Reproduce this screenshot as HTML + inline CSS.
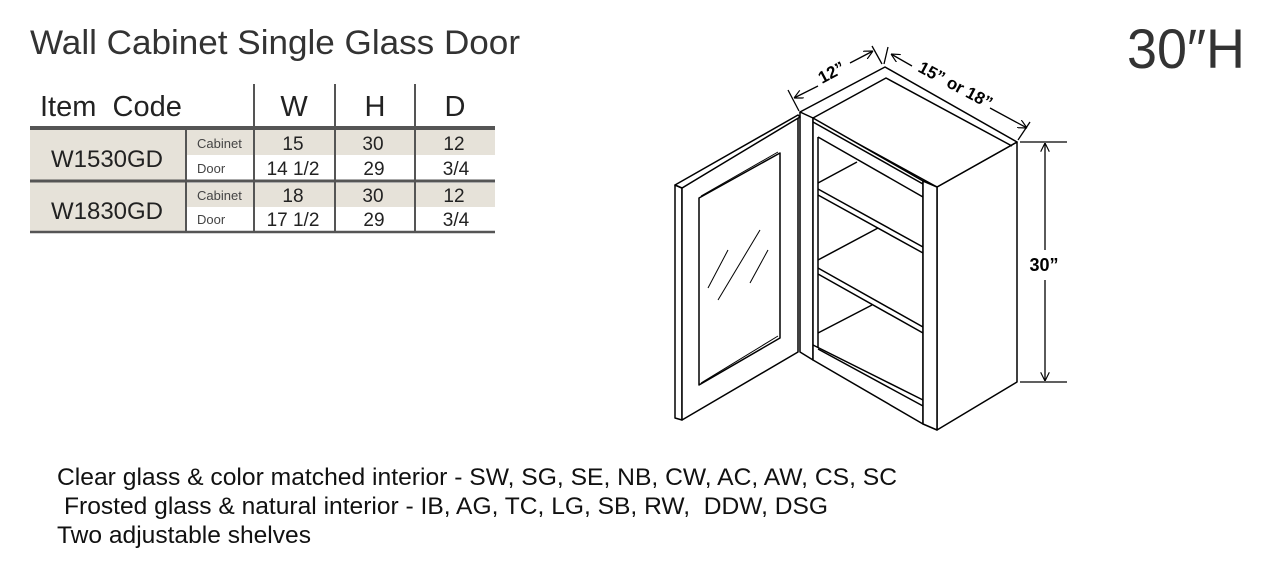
<!DOCTYPE html>
<html><head><meta charset="utf-8"><style>
html,body{margin:0;padding:0;background:#fff;}
svg{display:block;}
text{font-family:"Liberation Sans",sans-serif;}
</style></head><body>
<svg width="1267" height="570" viewBox="0 0 1267 570" xmlns="http://www.w3.org/2000/svg">
<defs>
<marker id="ar" viewBox="0 0 10 10" refX="10" refY="5" markerWidth="9" markerHeight="9" orient="auto-start-reverse" markerUnits="userSpaceOnUse"><path d="M0,0 L10,5 L0,10" fill="none" stroke="#000" stroke-width="1.3"/></marker>
</defs>
<!-- title -->
<text x="30" y="54" font-size="34" fill="#333" textLength="490" lengthAdjust="spacingAndGlyphs">Wall Cabinet Single Glass Door</text>
<text x="1127" y="68" font-size="56" fill="#333" textLength="118" lengthAdjust="spacingAndGlyphs">30″H</text>

<!-- table -->
<rect x="30" y="130" width="465" height="25" fill="#e6e2d9"/>
<rect x="30" y="183" width="465" height="24" fill="#e6e2d9"/>
<rect x="30" y="130" width="155" height="102" fill="#e6e2d9"/>
<g stroke="#555" fill="none">
<line x1="30" y1="128" x2="495" y2="128" stroke-width="4"/>
<line x1="30" y1="181" x2="495" y2="181" stroke-width="3"/>
<line x1="30" y1="232" x2="495" y2="232" stroke-width="2.5"/>
<line x1="186" y1="130" x2="186" y2="232" stroke-width="2"/>
<line x1="254" y1="84" x2="254" y2="232" stroke-width="2"/>
<line x1="335" y1="84" x2="335" y2="232" stroke-width="2"/>
<line x1="415" y1="84" x2="415" y2="232" stroke-width="2"/>
</g>
<g fill="#222">
<text x="40" y="116" font-size="29">Item&#160; Code</text>
<text x="294" y="116" font-size="29" text-anchor="middle">W</text>
<text x="375" y="116" font-size="29" text-anchor="middle">H</text>
<text x="455" y="116" font-size="29" text-anchor="middle">D</text>
<text x="107" y="167" font-size="24" text-anchor="middle">W1530GD</text>
<text x="107" y="219" font-size="24" text-anchor="middle">W1830GD</text>
<text x="197" y="148" font-size="13" fill="#444">Cabinet</text>
<text x="197" y="173" font-size="13" fill="#444">Door</text>
<text x="197" y="200" font-size="13" fill="#444">Cabinet</text>
<text x="197" y="224" font-size="13" fill="#444">Door</text>
<g font-size="19" text-anchor="middle">
<text x="293" y="150">15</text><text x="373" y="150">30</text><text x="454" y="150">12</text>
<text x="293" y="175">14 1/2</text><text x="374" y="175">29</text><text x="456" y="175">3/4</text>
<text x="293" y="202">18</text><text x="373" y="202">30</text><text x="454" y="202">12</text>
<text x="293" y="226">17 1/2</text><text x="374" y="226">29</text><text x="456" y="226">3/4</text>
</g>
</g>

<!-- cabinet drawing -->
<g stroke="#000" stroke-width="1.5" fill="#fff" stroke-linejoin="round">
<polygon points="937,187 1017,142 1017,382 937,430"/>
<polygon points="800,112 885,67 1017,142 937,187"/>
<polyline points="813,118 886,78 1012,146" fill="none"/>
<polygon points="800,112 813,118 813,360 800,352"/>
<polygon points="813,118 923,181 923,424 813,360"/>
<polygon points="923,181 937,187 937,430 923,424"/>
<line x1="813" y1="122" x2="923" y2="184"/>
<line x1="818" y1="137" x2="923" y2="197"/>
<line x1="818" y1="137" x2="818" y2="348"/>
<line x1="813" y1="345" x2="923" y2="400"/>
<line x1="818" y1="349" x2="923" y2="406"/>
<line x1="818" y1="183" x2="857" y2="162"/>
<line x1="818" y1="260" x2="878" y2="228"/>
<line x1="818" y1="333" x2="872" y2="305"/>
<line x1="818" y1="189" x2="923" y2="247"/>
<line x1="818" y1="195" x2="923" y2="253"/>
<line x1="818" y1="268" x2="923" y2="327"/>
<line x1="818" y1="274" x2="923" y2="333"/>
<!-- door -->
<polygon points="675,185 682,188 682,420 675,418"/>
<polygon points="682,188 798,117 798,352 682,420"/>
<polygon points="675,185 798,115 800,117 682,188" />
<polygon points="699,198 780,153 780,338 699,385"/>
<line x1="701" y1="196" x2="778" y2="152" stroke-width="1"/>
<line x1="701" y1="383" x2="778" y2="336" stroke-width="1"/>
</g>
<g stroke="#000" stroke-width="1">
<line x1="708" y1="288" x2="728" y2="250"/>
<line x1="718" y1="300" x2="760" y2="230"/>
<line x1="750" y1="283" x2="768" y2="250"/>
</g>
<g stroke="#000" stroke-width="1.3" fill="none">
<line x1="788" y1="90" x2="799" y2="111"/>
<line x1="872" y1="46" x2="882" y2="64"/>
<line x1="888" y1="47" x2="884" y2="64"/>
<line x1="1030" y1="122" x2="1018" y2="140"/>
<line x1="794" y1="98" x2="818" y2="86" marker-start="url(#ar)"/>
<line x1="850" y1="63" x2="873" y2="51" marker-end="url(#ar)"/>
<line x1="891" y1="54" x2="912" y2="66" marker-start="url(#ar)"/>
<line x1="990" y1="108" x2="1027" y2="128" marker-end="url(#ar)"/>
<line x1="1020" y1="142" x2="1067" y2="142"/>
<line x1="1020" y1="382" x2="1067" y2="382"/>
<line x1="1045" y1="143" x2="1045" y2="250" marker-start="url(#ar)"/>
<line x1="1045" y1="280" x2="1045" y2="381" marker-end="url(#ar)"/>
</g>
<g font-weight="bold" fill="#000" font-size="17">
<text x="0" y="0" transform="translate(822,84) rotate(-28)">12”</text>
<text x="0" y="0" transform="translate(917,71) rotate(28)">15” or 18”</text>
<text x="1044" y="271" text-anchor="middle" font-size="18">30”</text>
</g>

<g fill="#111" font-size="24">
<text x="57" y="485" textLength="840" lengthAdjust="spacingAndGlyphs">Clear glass &amp; color matched interior - SW, SG, SE, NB, CW, AC, AW, CS, SC</text>
<text x="64" y="514" textLength="764" lengthAdjust="spacingAndGlyphs">Frosted glass &amp; natural interior - IB, AG, TC, LG, SB, RW,&#160; DDW, DSG</text>
<text x="57" y="543" textLength="254" lengthAdjust="spacingAndGlyphs">Two adjustable shelves</text>
</g>
</svg>
</body></html>
